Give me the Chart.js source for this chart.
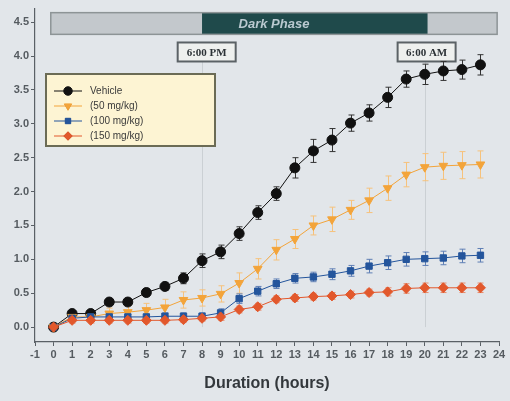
<!DOCTYPE html>
<html>
<head>
<meta charset="utf-8">
<script src="https://cdn.jsdelivr.net/npm/chart.js@4.4.0/dist/chart.umd.min.js"></script>
<style>
html,body{margin:0;padding:0;background:#e2e6ea;}
#wrap{position:relative;width:510px;height:401px;}
</style>
</head>
<body>
<div id="wrap"><canvas id="c" width="510" height="401"></canvas></div>
<script>
const hours = [0,1,2,3,4,5,6,7,8,9,10,11,12,13,14,15,16,17,18,19,20,21,22,23];
const xTickLabels = ['-1','0','1','2','3','4','5','6','7','8','9','10','11','12','13','14','15','16','17','18','19','20','21','22','23','24'];
const yTickLabels = ['0.0','0.5','1.0','1.5','2.0','2.5','3.0','3.5','4.0','4.5'];
const seriesNames = ['Vehicle','(50 mg/kg)','(100 mg/kg)','(150 mg/kg)'];
const vehicle = [0,0.2,0.2,0.37,0.37,0.51,0.6,0.72,0.98,1.11,1.38,1.69,1.97,2.35,2.6,2.76,3.01,3.16,3.39,3.66,3.73,3.78,3.8,3.87];
const vehicleErr = [0.02,0.04,0.04,0.05,0.05,0.06,0.06,0.08,0.1,0.1,0.1,0.1,0.1,0.15,0.17,0.17,0.12,0.12,0.15,0.12,0.15,0.14,0.14,0.15];
const dose50 = [0,0.15,0.15,0.2,0.22,0.25,0.29,0.4,0.43,0.49,0.65,0.86,1.14,1.3,1.5,1.59,1.73,1.87,2.05,2.25,2.36,2.38,2.39,2.4];
const dose50Err = [0.02,0.06,0.06,0.08,0.1,0.1,0.12,0.12,0.12,0.12,0.15,0.15,0.15,0.14,0.14,0.18,0.14,0.18,0.18,0.18,0.2,0.2,0.2,0.2];
const dose100 = [0,0.13,0.15,0.15,0.15,0.15,0.16,0.16,0.16,0.21,0.42,0.53,0.64,0.72,0.74,0.78,0.83,0.9,0.95,1.0,1.01,1.02,1.05,1.06];
const dose100Err = [0.02,0.04,0.04,0.04,0.04,0.04,0.05,0.05,0.05,0.06,0.07,0.07,0.07,0.07,0.07,0.08,0.08,0.1,0.1,0.1,0.1,0.1,0.1,0.1];
const dose150 = [0,0.1,0.1,0.1,0.1,0.1,0.1,0.11,0.13,0.15,0.26,0.3,0.41,0.43,0.45,0.46,0.48,0.51,0.52,0.57,0.58,0.58,0.58,0.58];
const dose150Err = [0.02,0.04,0.04,0.04,0.04,0.04,0.04,0.04,0.04,0.05,0.05,0.05,0.05,0.05,0.05,0.05,0.05,0.05,0.06,0.07,0.07,0.07,0.07,0.07];
const phaseStart = 8, phaseEnd = 20;
const phaseLabels = ['Dark Phase','6:00 PM','6:00 AM'];

const colors = ['#111111','#f3a43a','#24559c','#e2582c'];
const errColors = ['#333333','#f6c27c','#5f7fb5','#e88a6a'];
const styles = [
  {pointStyle:'circle', radius:5, rotation:0},
  {pointStyle:'triangle', radius:5, rotation:180},
  {pointStyle:'rect', radius:4.5, rotation:0},
  {pointStyle:'rectRot', radius:5, rotation:0}
];
const values = [vehicle, dose50, dose100, dose150];
const errors = [vehicleErr, dose50Err, dose100Err, dose150Err];

const datasets = values.map((v,i)=>({
  label: seriesNames[i],
  data: hours.map((h,j)=>({x:h,y:v[j]})),
  errs: errors[i],
  borderColor: colors[i],
  backgroundColor: colors[i],
  borderWidth: 1,
  pointStyle: styles[i].pointStyle,
  pointRadius: styles[i].radius,
  pointRotation: styles[i].rotation,
  pointBorderWidth: 1,
  pointBorderColor: colors[i],
  pointBackgroundColor: colors[i],
  errColor: errColors[i],
  tension: 0,
  order: 4 - i
}));

const bgPlugin = {
  id:'bg',
  beforeDraw(chart){
    const ctx = chart.ctx;
    ctx.save();
    ctx.fillStyle = '#e2e6ea';
    ctx.fillRect(0,0,chart.width,chart.height);
    ctx.restore();
  }
};

const decorPlugin = {
  id:'decor',
  beforeDatasetsDraw(chart){
    const ctx = chart.ctx, xs = chart.scales.x, ys = chart.scales.y;
    ctx.save();
    // vertical guide lines
    ctx.strokeStyle = '#cbd0d4';
    ctx.lineWidth = 1;
    [phaseStart, phaseEnd].forEach(p=>{
      const px = Math.round(xs.getPixelForValue(p))+0.5;
      ctx.beginPath();
      ctx.moveTo(px, ys.getPixelForValue(4.05));
      ctx.lineTo(px, ys.getPixelForValue(0));
      ctx.stroke();
    });
    // phase bar
    const bx0 = xs.getPixelForValue(-0.15), bx1 = xs.getPixelForValue(23.9);
    const by0 = ys.getPixelForValue(4.64), by1 = ys.getPixelForValue(4.32);
    ctx.fillStyle = '#c3c8cc';
    ctx.fillRect(bx0, by0, bx1-bx0, by1-by0);
    const dx0 = xs.getPixelForValue(phaseStart), dx1 = xs.getPixelForValue(phaseEnd + 0.15);
    ctx.fillStyle = '#1f4a4b';
    ctx.fillRect(dx0, by0, dx1-dx0, by1-by0);
    ctx.strokeStyle = '#8d9496';
    ctx.lineWidth = 1.5;
    ctx.strokeRect(bx0, by0, bx1-bx0, by1-by0);
    ctx.fillStyle = '#b9c9d0';
    ctx.font = 'italic bold 13px "Liberation Sans", Arial, sans-serif';
    ctx.textAlign = 'center';
    ctx.textBaseline = 'middle';
    ctx.fillText(phaseLabels[0], (bx0+bx1)/2, (by0+by1)/2+1);
    // time boxes
    [[phaseStart+0.25, phaseLabels[1]],[phaseEnd+0.1, phaseLabels[2]]].forEach(([p,t])=>{
      const cx = xs.getPixelForValue(p);
      const w = 58, h = 19;
      const top = ys.getPixelForValue(4.2);
      ctx.fillStyle = '#eef0ee';
      ctx.fillRect(cx-w/2, top, w, h);
      ctx.strokeStyle = '#5b6266';
      ctx.lineWidth = 2;
      ctx.strokeRect(cx-w/2, top, w, h);
      ctx.fillStyle = '#2c3236';
      ctx.font = 'bold 11px "Liberation Serif", "Times New Roman", serif';
      ctx.fillText(t, cx, top + h/2 + 1);
    });
    // error bars
    chart.data.datasets.forEach(ds=>{
      ctx.strokeStyle = ds.errColor;
      ctx.lineWidth = 1;
      ds.data.forEach((pt,j)=>{
        const e = ds.errs[j];
        const px = Math.round(xs.getPixelForValue(pt.x))+0.5;
        const yt = ys.getPixelForValue(pt.y+e), yb = ys.getPixelForValue(pt.y-e);
        ctx.beginPath();
        ctx.moveTo(px, yt); ctx.lineTo(px, yb);
        ctx.moveTo(px-3, yt); ctx.lineTo(px+3, yt);
        ctx.moveTo(px-3, yb); ctx.lineTo(px+3, yb);
        ctx.stroke();
      });
    });
    ctx.restore();
  },
  afterDatasetsDraw(chart){
    const ctx = chart.ctx;
    ctx.save();
    // legend box
    const lx = 46, ly = 74, lw = 169, lh = 72;
    ctx.fillStyle = '#fdf4d3';
    ctx.fillRect(lx, ly, lw, lh);
    ctx.strokeStyle = '#6b6b55';
    ctx.lineWidth = 2;
    ctx.strokeRect(lx, ly, lw, lh);
    chart.data.datasets.forEach((ds,i)=>{
      const yy = ly + 17 + i*15;
      ctx.strokeStyle = ds.borderColor;
      ctx.lineWidth = 1;
      ctx.beginPath();
      ctx.moveTo(lx+8, yy); ctx.lineTo(lx+36, yy);
      ctx.stroke();
      Chart.helpers.drawPoint(ctx, {
        pointStyle: ds.pointStyle, radius: ds.pointRadius*0.85, rotation: ds.pointRotation,
        borderWidth: 1
      }, lx+22, yy);
      ctx.fillStyle = ds.pointBackgroundColor;
      ctx.strokeStyle = ds.pointBorderColor;
      ctx.fill(); 
      ctx.fillStyle = '#3a3a3a';
      ctx.font = '10px "Liberation Sans", Arial, sans-serif';
      ctx.textAlign = 'left';
      ctx.textBaseline = 'middle';
      ctx.fillText(ds.label, lx+44, yy);
    });
    ctx.restore();
  }
};

new Chart(document.getElementById('c'), {
  type:'line',
  data:{datasets},
  options:{
    responsive:false,
    animation:false,
    layout:{padding:{left:0,right:11,top:1,bottom:0}},
    plugins:{legend:{display:false},tooltip:{enabled:false}},
    scales:{
      x:{
        type:'linear', min:-1, max:24,
        afterFit(s){ s.height = 59; },
        afterBuildTicks(s){ s.ticks = xTickLabels.map(t=>({value:Number(t)})); },
        ticks:{
          autoSkip:false, maxRotation:0, padding:2,
          color:'#555b60',
          font:{family:'"Liberation Sans", Arial, sans-serif', size:11, weight:'bold'},
          callback:(v,i)=>xTickLabels[i]
        },
        grid:{drawOnChartArea:false, tickLength:4, color:'#5a6066'},
        border:{color:'#5a6066', width:1.2},
        title:{display:true, text:'Duration (hours)', color:'#33383c',
          font:{family:'"Liberation Sans", Arial, sans-serif', size:16, weight:'bold'},
          padding:{top:0,bottom:8}}
      },
      y:{
        type:'linear', min:-0.22, max:4.7,
        afterFit(s){ s.width = 35; },
        afterBuildTicks(s){ s.ticks = yTickLabels.map(t=>({value:Number(t)})); },
        ticks:{
          autoSkip:false, padding:2, color:'#555b60',
          font:{family:'"Liberation Sans", Arial, sans-serif', size:11, weight:'bold'},
          callback:(v,i)=>yTickLabels[i]
        },
        grid:{drawOnChartArea:false, tickLength:4, color:'#5a6066'},
        border:{color:'#5a6066', width:1.2}
      }
    }
  },
  plugins:[bgPlugin, decorPlugin]
});
</script>
</body>
</html>
